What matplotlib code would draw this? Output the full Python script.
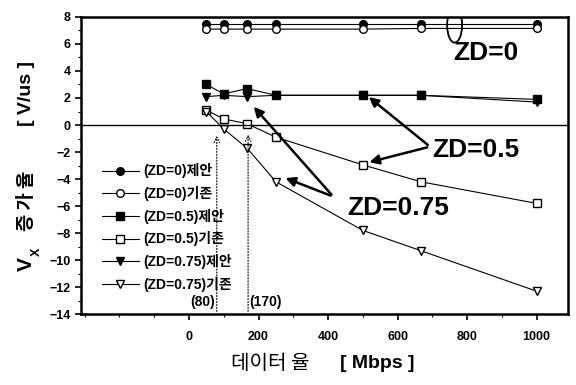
import matplotlib
matplotlib.use("Agg")
import matplotlib.pyplot as plt
from matplotlib.patches import Ellipse
from matplotlib.ticker import MultipleLocator

plt.rcParams['font.family'] = ['Liberation Sans', 'Noto Sans CJK KR', 'DejaVu Sans']
plt.rcParams['font.weight'] = 'bold'

x = [50, 100, 166.7, 250, 500, 666.7, 1000]
zd0_prop = [7.45, 7.45, 7.45, 7.45, 7.45, 7.45, 7.45]
zd0_conv = [7.1, 7.1, 7.1, 7.1, 7.1, 7.15, 7.15]
zd05_prop = [3.0, 2.3, 2.7, 2.2, 2.2, 2.2, 1.9]
zd05_conv = [1.1, 0.45, 0.1, -0.9, -2.95, -4.2, -5.8]
zd075_prop = [2.1, 2.2, 2.1, 2.2, 2.2, 2.2, 1.7]
zd075_conv = [1.0, -0.3, -1.7, -4.2, -7.8, -9.3, -12.3]

labels = ['(ZD=0)제안', '(ZD=0)기존', '(ZD=0.5)제안', '(ZD=0.5)기존',
          '(ZD=0.75)제안', '(ZD=0.75)기존']
markers = ['o', 'o', 's', 's', 'v', 'v']
filled = [True, False, True, False, True, False]
series = [zd0_prop, zd0_conv, zd05_prop, zd05_conv, zd075_prop, zd075_conv]

fig = plt.figure(figsize=(5.76, 3.85), dpi=100)
ax = fig.add_axes([0.141, 0.184, 0.845, 0.772])

for y, lab, m, f in zip(series, labels, markers, filled):
    ax.plot(x, y, marker=m, color='black', lw=0.8,
            markerfacecolor='black' if f else 'white',
            markeredgecolor='black', markersize=5.5, label=lab)

ax.axhline(0, color='black', lw=1.0)

# dotted arrows at 80 and 170
for xv, top in [(80, -0.6), (170, -0.5)]:
    ax.annotate('', xy=(xv, top), xytext=(xv, -14),
                arrowprops=dict(arrowstyle='->', ls=':', lw=0.8, color='black'))
ax.text(74, -13.1, '(80)', ha='right', va='center', fontsize=10, fontweight='bold')
ax.text(174, -13.1, '(170)', ha='left', va='center', fontsize=10, fontweight='bold')

# annotations
ax.text(759, 4.8, 'ZD=0', fontsize=19, fontweight='bold', ha='left', va='baseline')
ax.add_patch(Ellipse((764, 7.4), 43, 2.6, fill=False, lw=1.3, color='black'))

ax.text(701, -2.37, 'ZD=0.5', fontsize=19, fontweight='bold', ha='left', va='baseline')
for tgt in [(511, 2.2), (511, -2.8)]:
    ax.annotate('', xy=tgt, xytext=(693, -1.6),
                arrowprops=dict(arrowstyle='-|>', lw=1.8, color='black', mutation_scale=14))

ax.text(454, -6.67, 'ZD=0.75', fontsize=19, fontweight='bold', ha='left', va='baseline')
for tgt in [(181, 1.5), (270, -3.85)]:
    ax.annotate('', xy=tgt, xytext=(415, -5.3),
                arrowprops=dict(arrowstyle='-|>', lw=1.8, color='black', mutation_scale=14))

ax.set_xlim(-310, 1090)
ax.set_ylim(-14, 8)
ax.set_xticks([0, 200, 400, 600, 800, 1000])
ax.xaxis.set_minor_locator(MultipleLocator(100))
ax.set_yticks(range(-14, 9, 2))
ax.yaxis.set_minor_locator(MultipleLocator(1))
for s in ax.spines.values():
    s.set_linewidth(1.8)
ax.tick_params(axis='both', which='major', labelsize=9, width=1.2, length=4, direction='out')
ax.tick_params(axis='x', which='major', pad=8)
ax.tick_params(axis='both', which='minor', width=0.8, length=2.5, direction='out')
for t in ax.get_xticklabels() + ax.get_yticklabels():
    t.set_fontweight('bold')

# x-axis label
fig.text(0.538, 0.057, '데이터 율', fontsize=14.5, fontweight='normal',
         ha='right', va='center', family=['Noto Sans CJK KR'])
fig.text(0.59, 0.057, '[ Mbps ]', fontsize=14, fontweight='bold',
         ha='left', va='center')

# y-axis label in parts
fig.text(0.046, 0.314, 'V', fontsize=15, fontweight='bold', rotation=90,
         ha='center', va='center')
fig.text(0.064, 0.345, 'X', fontsize=9, fontweight='bold', rotation=90,
         ha='center', va='center')
fig.text(0.046, 0.478, '증 가 율', fontsize=13.5, fontweight='bold', rotation=90,
         ha='center', va='center', family=['Noto Sans CJK KR'])
fig.text(0.046, 0.756, '[ V/us ]', fontsize=14, fontweight='bold', rotation=90,
         ha='center', va='center')

leg = ax.legend(loc='upper left', bbox_to_anchor=(0.025, 0.535), frameon=False,
                fontsize=10, handlelength=2.7, labelspacing=0.55, borderaxespad=0.2,
                handletextpad=0.3)
for t in leg.get_texts():
    t.set_fontweight('bold')

fig.savefig('out.png', dpi=100)
